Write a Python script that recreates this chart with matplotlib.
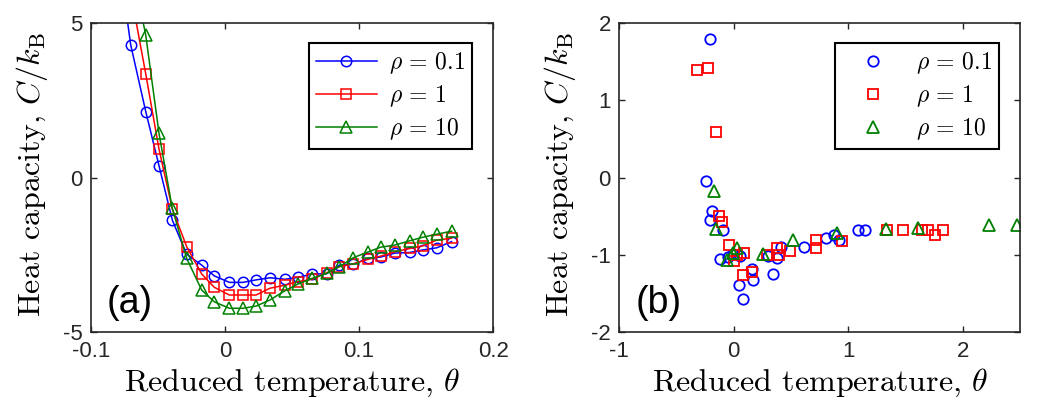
import numpy as np
import matplotlib.pyplot as plt

plt.rcParams['mathtext.fontset'] = 'cm'
plt.rcParams['font.family'] = ['Liberation Sans', 'DejaVu Sans']

# panel (a): heat capacity vs reduced temperature, lines with markers
theta_a = [-0.0806, -0.0702, -0.0590, -0.0491, -0.0392, -0.0285, -0.0173, -0.0079,
           0.0033, 0.0135, 0.0232, 0.0336, 0.0448, 0.0542, 0.0651, 0.0758,
           0.0853, 0.0957, 0.1069, 0.1160, 0.1267, 0.1379, 0.1473, 0.1578, 0.1689]
c_a_01 = [7.6, 4.30, 2.14, 0.38, -1.38, -2.49, -2.84, -3.19,
          -3.40, -3.40, -3.32, -3.25, -3.30, -3.24, -3.13, -3.12,
          -2.84, -2.81, -2.62, -2.58, -2.45, -2.43, -2.35, -2.28, -2.08]
c_a_1 = [8.5, 6.0, 3.36, 0.92, -1.02, -2.24, -3.13, -3.56,
         -3.81, -3.81, -3.81, -3.59, -3.49, -3.38, -3.30, -3.09,
         -2.89, -2.80, -2.65, -2.55, -2.41, -2.30, -2.22, -2.03, -1.97]
c_a_10 = [9.5, 7.0, 4.62, 1.43, -1.00, -2.62, -3.65, -4.03,
          -4.24, -4.24, -4.17, -3.97, -3.67, -3.46, -3.27, -3.11,
          -2.89, -2.60, -2.41, -2.26, -2.19, -2.05, -1.94, -1.84, -1.74]

# panel (b): scattered points
theta_b_01 = [-0.208, -0.246, -0.188, -0.208, -0.097, -0.121, -0.048, -0.004, 0.054,
              0.048, 0.083, 0.156, 0.170, 0.296, 0.339, 0.380, 0.412, 0.613,
              0.805, 0.878, 0.921, 1.081, 1.146]
c_b_01 = [1.80, -0.04, -0.43, -0.55, -0.68, -1.06, -1.03, -0.99, -1.02,
          -1.39, -1.58, -1.19, -1.33, -1.02, -1.25, -1.04, -0.90, -0.90,
          -0.79, -0.75, -0.81, -0.68, -0.68]
theta_b_1 = [-0.319, -0.223, -0.156, -0.127, -0.106, -0.042, 0.001, 0.025, 0.089,
             0.083, 0.156, 0.287, 0.374, 0.392, 0.491, 0.718, 0.718, 0.942,
             1.341, 1.480, 1.640, 1.699, 1.757, 1.830]
c_b_1 = [1.39, 1.42, 0.59, -0.50, -0.58, -0.88, -1.08, -1.00, -0.98,
         -1.27, -1.22, -1.00, -0.91, -1.01, -0.95, -0.81, -0.91, -0.82,
         -0.68, -0.68, -0.68, -0.68, -0.75, -0.68]
theta_b_10 = [-0.170, -0.159, -0.063, 0.025, -0.004, 0.252, 0.520, 0.898,
              1.329, 1.611, 2.231, 2.470]
c_b_10 = [-0.17, -0.67, -1.07, -0.92, -0.98, -0.99, -0.81, -0.72,
          -0.67, -0.66, -0.62, -0.62]

labels = [r'$\rho\,=\,0.1$', r'$\rho\,=\,1$', r'$\rho\,=\,10$']
colors = ['#0000ff', '#ff0000', '#008000']
markers = ['o', 's', '^']
msizes = [7.5, 7.0, 9.0]

fig = plt.figure(figsize=(10.38, 4.16), dpi=100)
ax1 = fig.add_axes([0.0874, 0.2026, 0.3878, 0.7414])
ax2 = fig.add_axes([0.5966, 0.2026, 0.3861, 0.7414])

for ys, c, m, ms, lab in zip([c_a_01, c_a_1, c_a_10], colors, markers, msizes, labels):
    ax1.plot(theta_a, ys, color=c, marker=m, markersize=ms, markerfacecolor='none',
             markeredgewidth=1.1, linewidth=1.1, label=lab)

for xs, ys, c, m, ms, lab in zip([theta_b_01, theta_b_1, theta_b_10],
                                 [c_b_01, c_b_1, c_b_10], colors, markers, msizes, labels):
    ax2.plot(xs, ys, linestyle='none', color=c, marker=m, markersize=ms,
             markerfacecolor='none', markeredgewidth=1.3, label=lab)

ax1.set_xlim(-0.1, 0.2)
ax1.set_ylim(-5, 5)
ax1.set_xticks([-0.1, 0, 0.1, 0.2])
ax1.set_xticklabels(['-0.1', '0', '0.1', '0.2'])
ax1.set_yticks([-5, 0, 5])
ax1.set_yticklabels(['-5', '0', '5'])

ax2.set_xlim(-1, 2.5)
ax2.set_ylim(-2, 2)
ax2.set_xticks([-1, 0, 1, 2])
ax2.set_xticklabels(['-1', '0', '1', '2'])
ax2.set_yticks([-2, -1, 0, 1, 2])
ax2.set_yticklabels(['-2', '-1', '0', '1', '2'])

for ax, tag in zip([ax1, ax2], ['(a)', '(b)']):
    for s in ax.spines.values():
        s.set_color('#262626')
        s.set_linewidth(1.2)
    ax.tick_params(direction='in', top=True, right=True, length=4, width=1,
                   color='#262626', labelsize=16, labelcolor='#262626')
    ax.tick_params(axis='x', pad=7)
    ax.tick_params(axis='y', pad=6)
    ax.set_xlabel(r'Reduced temperature, $\theta$', fontfamily='cmr10',
                  fontsize=23, labelpad=3)
    ax.set_ylabel(r'Heat capacity, $C/k_\mathrm{B}$', fontfamily='cmr10', fontsize=23)
    ax.yaxis.set_label_coords(-0.102, 0.51)
    ax.text(0.04, 0.035, tag, transform=ax.transAxes, fontsize=27, ha='left', va='bottom')
    leg = ax.legend(loc='upper right', bbox_to_anchor=(0.947, 0.935), borderaxespad=0,
                    fontsize=17, handlelength=2.6, handletextpad=0.5, labelspacing=0.3,
                    fancybox=False, framealpha=1, edgecolor='black', borderpad=0.3)
    leg.get_frame().set_linewidth(1.5)

fig.savefig('out.png', dpi=100)
